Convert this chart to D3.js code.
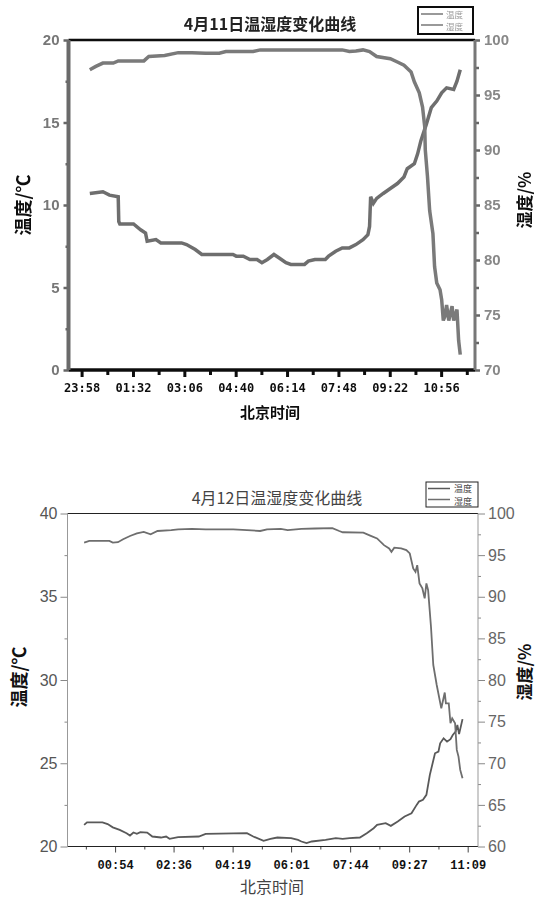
<!DOCTYPE html>
<html>
<head>
<meta charset="utf-8">
<script src="https://cdn.jsdelivr.net/npm/d3@7"></script>
<style>
  body { margin: 0; background: #fff; }
  svg { display: block; }
</style>
</head>
<body>
<svg id="chart" width="537" height="898"></svg>
<script>
// ---- data: upper chart (4月11日) ----
var topTempTimes = ["00:13","00:37","00:49","01:05","01:06","01:08","01:33","01:46","01:55","01:58","02:14","02:23","03:01","03:10","03:26","03:38","04:04","04:10","04:35","04:41","04:54","05:06","05:19","05:28","05:38","05:50","05:59","06:12","06:21","06:46","06:53","07:05","07:24","07:30","07:43","07:55","08:08","08:20","08:33","08:42","08:45","08:47","08:52","08:58","09:10","09:23","09:36","09:48","09:54","10:07","10:13","10:19","10:29","10:38","10:48","10:57","11:06","11:19","11:25","11:31"];
var topTemp = [10.7,10.8,10.6,10.5,9.0,8.85,8.85,8.5,8.3,7.8,7.9,7.7,7.7,7.6,7.3,7.0,7.0,7.0,7.0,6.9,6.9,6.7,6.7,6.5,6.7,7.0,6.8,6.5,6.4,6.4,6.6,6.7,6.7,6.9,7.2,7.4,7.4,7.6,7.9,8.2,8.7,10.5,10.1,10.4,10.7,11.0,11.3,11.7,12.2,12.5,13.1,13.9,14.9,15.9,16.3,16.8,17.1,17.0,17.5,18.2];
var topHumTimes = ["00:13","00:24","00:37","00:56","01:05","01:52","02:01","02:30","02:55","03:20","03:45","04:10","04:22","05:12","05:25","07:55","08:08","08:20","08:33","08:45","08:58","09:23","09:36","09:48","10:01","10:07","10:16","10:22","10:26","10:27","10:31","10:35","10:41","10:44","10:48","10:54","10:57","11:00","11:03","11:06","11:10","11:16","11:19","11:25","11:28","11:31"];
var topHum = [97.3,97.6,97.9,97.9,98.1,98.1,98.5,98.6,98.85,98.85,98.8,98.8,98.95,98.95,99.1,99.1,98.95,99.0,99.1,98.95,98.5,98.3,98.0,97.7,97.1,96.2,95.2,93.9,92.1,90.0,87.6,84.5,82.4,79.4,77.9,77.3,76.4,74.5,74.9,75.9,74.5,75.8,74.5,75.5,72.7,71.4];
var topTicks = ["23:58","01:32","03:06","04:40","06:14","07:48","09:22","10:56"];
var topMinor = ["00:45","02:19","03:53","05:27","07:01","08:35","10:09","11:43"];
var topDomain = ["23:34","11:58"];
var topTempTicks = [0,5,10,15,20], topTempMinor = [2.5,7.5,12.5,17.5];
var topHumTicks = [70,75,80,85,90,95,100], topHumMinor = [72.5,77.5,82.5,87.5,92.5,97.5];

// ---- data: lower chart (4月12日) ----
var botTempTimes = ["00:00","00:05","00:32","00:41","00:50","01:02","01:14","01:20","01:26","01:32","01:38","01:50","01:59","02:14","02:23","02:29","02:44","03:20","03:32","04:44","04:55","05:13","05:25","05:37","06:01","06:13","06:19","06:28","06:37","07:01","07:19","07:31","07:43","08:01","08:13","08:25","08:31","08:46","08:55","09:07","09:19","09:31","09:40","09:44","09:51","09:57","10:03","10:12","10:18","10:21","10:27","10:33","10:39","10:43","10:48","10:51","10:54","10:57","11:00"];
var botTemp = [21.3,21.45,21.45,21.35,21.15,21.0,20.8,20.66,20.84,20.76,20.86,20.84,20.6,20.54,20.6,20.46,20.56,20.6,20.76,20.8,20.6,20.34,20.46,20.54,20.5,20.4,20.3,20.2,20.3,20.4,20.5,20.46,20.5,20.54,20.8,21.1,21.3,21.4,21.24,21.5,21.8,22.0,22.5,22.7,22.8,23.1,24.3,25.6,25.7,26.2,26.5,26.3,26.45,26.7,26.9,27.3,26.75,27.2,27.65];
var botHumTimes = ["00:00","00:09","00:44","00:50","00:59","01:08","01:20","01:32","01:44","01:56","02:08","02:32","02:44","03:08","03:32","03:56","04:20","04:44","05:07","05:19","05:43","05:55","06:19","06:43","07:13","07:25","07:31","08:07","08:19","08:31","08:43","08:52","08:56","09:01","09:13","09:22","09:28","09:34","09:38","09:41","09:45","09:50","09:54","09:57","10:00","10:05","10:09","10:15","10:23","10:29","10:31","10:36","10:39","10:42","10:47","10:50","10:53","10:56","11:00"];
var botHum = [96.5,96.7,96.7,96.5,96.55,96.9,97.3,97.6,97.8,97.5,97.9,98.0,98.1,98.15,98.1,98.1,98.1,98.0,97.9,98.1,98.15,98.0,98.15,98.2,98.25,97.9,97.75,97.7,97.35,97.0,96.2,95.8,95.4,95.9,95.8,95.6,95.2,93.4,93.0,93.8,91.6,91.0,89.8,91.6,90.8,86.4,81.8,79.4,76.6,78.5,77.2,77.2,74.8,75.4,74.8,71.6,70.8,69.2,68.2];
var botTicks = ["00:54","02:36","04:19","06:01","07:44","09:27","11:09"];
var botMinor = ["00:03","01:45","03:27","05:10","06:52","08:35","10:18"];
var botDomain = ["23:31","11:27"];
var botTempTicks = [20,25,30,35,40], botTempMinor = [22.5,27.5,32.5,37.5];
var botHumTicks = [60,65,70,75,80,85,90,95,100], botHumMinor = [62.5,67.5,72.5,77.5,82.5,87.5,92.5,97.5];

var parse = d3.timeParse("%Y-%m-%d %H:%M");
// times after 18:00 belong to the evening before
function at(day, hm) {
    var h = +hm.slice(0, 2);
    var d = h >= 18 ? day - 1 : day;
    return parse("2019-04-" + String(d).padStart(2, "0") + " " + hm);
}

var svg = d3.select("#chart");
var fmt = d3.timeFormat("%H:%M");

// ================= upper chart =================
svg.append("defs").append("filter").attr("id", "soft")
    .append("feGaussianBlur").attr("stdDeviation", 0.45);

var g1 = svg.append("g").attr("filter", "url(#soft)");
var L1 = 68.5, R1 = 475, T1 = 40, B1 = 370;
var x1 = d3.scaleTime().domain(topDomain.map(function(s){ return at(11, s); })).range([L1, R1]);
var yT1 = d3.scaleLinear().domain([0, 20]).range([B1, T1]);
var yH1 = d3.scaleLinear().domain([70, 100]).range([B1, T1]);

// left axis
var la1 = g1.append("g").attr("transform", "translate(" + L1 + ",0)")
    .call(d3.axisLeft(yT1).tickValues(topTempTicks).tickSize(5).tickSizeOuter(0).tickPadding(4));
la1.append("g").call(d3.axisLeft(yT1).tickValues(topTempMinor).tickSize(3).tickFormat(""));
la1.selectAll("path.domain").remove();
la1.selectAll("line").attr("stroke", "#666").attr("stroke-width", 2.5);
la1.selectAll("text").attr("fill", "#777").style("font", "bold 15px 'Liberation Sans', Arial");

// right axis
var ra1 = g1.append("g").attr("transform", "translate(" + R1 + ",0)")
    .call(d3.axisRight(yH1).tickValues(topHumTicks).tickSize(5).tickSizeOuter(0).tickPadding(4));
ra1.append("g").call(d3.axisRight(yH1).tickValues(topHumMinor).tickSize(4).tickFormat(""));
ra1.selectAll("path.domain").remove();
ra1.selectAll("line").attr("stroke", "#666").attr("stroke-width", 2.5);
ra1.selectAll("text").attr("fill", "#888").style("font", "bold 15px 'Liberation Sans', Arial");

// bottom axis
var ba1 = g1.append("g").attr("transform", "translate(0," + B1 + ")")
    .call(d3.axisBottom(x1).tickValues(topTicks.map(function(s){ return at(11, s); }))
        .tickFormat(fmt).tickSize(7).tickSizeOuter(0).tickPadding(6));
ba1.append("g").call(d3.axisBottom(x1).tickValues(topMinor.map(function(s){ return at(11, s); }))
    .tickSize(5).tickFormat(""));
ba1.selectAll("path.domain").remove();
ba1.selectAll("line").attr("stroke", "#111").attr("stroke-width", 3);
ba1.selectAll("text").attr("fill", "#111").style("font", "bold 12px 'DejaVu Sans Mono', monospace");

// frame
g1.append("line").attr("x1", L1).attr("x2", R1).attr("y1", T1).attr("y2", T1).attr("stroke", "#111").attr("stroke-width", 2.5);
g1.append("line").attr("x1", L1).attr("x2", R1).attr("y1", B1).attr("y2", B1).attr("stroke", "#111").attr("stroke-width", 3.5);
g1.append("line").attr("x1", L1).attr("x2", L1).attr("y1", T1).attr("y2", B1).attr("stroke", "#6a6a6a").attr("stroke-width", 4);
g1.append("line").attr("x1", R1).attr("x2", R1).attr("y1", T1).attr("y2", B1).attr("stroke", "#777").attr("stroke-width", 3);

// curves
var lineT1 = d3.line().x(function(d, i){ return x1(at(11, topTempTimes[i])); }).y(function(d){ return yT1(d); });
var lineH1 = d3.line().x(function(d, i){ return x1(at(11, topHumTimes[i])); }).y(function(d){ return yH1(d); });
g1.append("path").datum(topTemp).attr("d", lineT1).attr("fill", "none").attr("stroke", "#6e6e6e").attr("stroke-width", 3.5);
g1.append("path").datum(topHum).attr("d", lineH1).attr("fill", "none").attr("stroke", "#7a7a7a").attr("stroke-width", 3.5);

// texts
g1.append("text").attr("x", 270).attr("y", 30).attr("text-anchor", "middle")
    .style("font", "bold 16px 'Noto Sans CJK SC'").attr("fill", "#222").text("4月11日温湿度变化曲线");
g1.append("text").attr("x", 270).attr("y", 418).attr("text-anchor", "middle")
    .style("font", "bold 15px 'Noto Sans CJK SC'").attr("fill", "#111").text("北京时间");
g1.append("text").attr("transform", "translate(30,205) rotate(-90)").attr("text-anchor", "middle")
    .style("font", "bold 18px 'Noto Sans CJK SC'").attr("fill", "#111").text("温度/℃");
g1.append("text").attr("transform", "translate(531,200) rotate(-90)").attr("text-anchor", "middle")
    .style("font", "bold 17px 'Noto Sans CJK SC'").attr("fill", "#111").text("湿度/%");

// legend
var lg1 = g1.append("g");
lg1.append("rect").attr("x", 418).attr("y", 7).attr("width", 55).attr("height", 27)
    .attr("fill", "#fff").attr("stroke", "#111").attr("stroke-width", 2);
lg1.append("line").attr("x1", 421).attr("x2", 443).attr("y1", 14).attr("y2", 14).attr("stroke", "#777").attr("stroke-width", 1.5);
lg1.append("line").attr("x1", 421).attr("x2", 443).attr("y1", 25).attr("y2", 25).attr("stroke", "#777").attr("stroke-width", 1.5);
lg1.append("text").attr("x", 446).attr("y", 18).style("font", "8.5px 'Noto Sans CJK SC'").attr("fill", "#999").text("温度");
lg1.append("text").attr("x", 446).attr("y", 30).style("font", "8.5px 'Noto Sans CJK SC'").attr("fill", "#999").text("湿度");

// ================= lower chart =================
var g2 = svg.append("g");
var L2 = 67.5, R2 = 478, T2 = 513.5, B2 = 846.5;
var x2 = d3.scaleTime().domain(botDomain.map(function(s){ return at(12, s); })).range([L2, R2]);
var yT2 = d3.scaleLinear().domain([20, 40]).range([B2, T2]);
var yH2 = d3.scaleLinear().domain([60, 100]).range([B2, T2]);

var la2 = g2.append("g").attr("transform", "translate(" + L2 + ",0)")
    .call(d3.axisLeft(yT2).tickValues(botTempTicks).tickSize(7).tickSizeOuter(0).tickPadding(3));
la2.append("g").call(d3.axisLeft(yT2).tickValues(botTempMinor).tickSize(3).tickFormat(""));
la2.selectAll("path.domain").remove();
la2.selectAll("line").attr("stroke", "#888");
la2.selectAll("text").attr("fill", "#555").style("font", "16px 'Liberation Sans', Arial");

var ra2 = g2.append("g").attr("transform", "translate(" + R2 + ",0)")
    .call(d3.axisRight(yH2).tickValues(botHumTicks).tickSize(7).tickSizeOuter(0).tickPadding(3));
ra2.append("g").call(d3.axisRight(yH2).tickValues(botHumMinor).tickSize(3).tickFormat(""));
ra2.selectAll("path.domain").remove();
ra2.selectAll("line").attr("stroke", "#888");
ra2.selectAll("text").attr("fill", "#666").style("font", "16px 'Liberation Sans', Arial");

var ba2 = g2.append("g").attr("transform", "translate(0," + B2 + ")")
    .call(d3.axisBottom(x2).tickValues(botTicks.map(function(s){ return at(12, s); }))
        .tickFormat(fmt).tickSize(6).tickSizeOuter(0).tickPadding(8));
ba2.append("g").call(d3.axisBottom(x2).tickValues(botMinor.map(function(s){ return at(12, s); }))
    .tickSize(3).tickFormat(""));
ba2.selectAll("path.domain").remove();
ba2.selectAll("line").attr("stroke", "#444");
ba2.selectAll("text").attr("fill", "#111").style("font", "bold 12px 'Liberation Mono', monospace");

g2.append("line").attr("x1", L2).attr("x2", R2).attr("y1", T2).attr("y2", T2).attr("stroke", "#222");
g2.append("line").attr("x1", L2).attr("x2", R2).attr("y1", B2).attr("y2", B2).attr("stroke", "#222");
g2.append("line").attr("x1", L2).attr("x2", L2).attr("y1", T2).attr("y2", B2).attr("stroke", "#999");
g2.append("line").attr("x1", R2).attr("x2", R2).attr("y1", T2).attr("y2", B2).attr("stroke", "#999");

var lineT2 = d3.line().x(function(d, i){ return x2(at(12, botTempTimes[i])); }).y(function(d){ return yT2(d); });
var lineH2 = d3.line().x(function(d, i){ return x2(at(12, botHumTimes[i])); }).y(function(d){ return yH2(d); });
g2.append("path").datum(botTemp).attr("d", lineT2).attr("fill", "none").attr("stroke", "#595959").attr("stroke-width", 1.8);
g2.append("path").datum(botHum).attr("d", lineH2).attr("fill", "none").attr("stroke", "#6e6e6e").attr("stroke-width", 1.8);

g2.append("text").attr("x", 277).attr("y", 504).attr("text-anchor", "middle")
    .style("font", "16px 'Noto Sans CJK SC'").attr("fill", "#444").text("4月12日温湿度变化曲线");
g2.append("text").attr("x", 272).attr("y", 893).attr("text-anchor", "middle")
    .style("font", "16px 'Noto Sans CJK SC'").attr("fill", "#444").text("北京时间");
g2.append("text").attr("transform", "translate(26,677) rotate(-90)").attr("text-anchor", "middle")
    .style("font", "bold 18px 'Noto Sans CJK SC'").attr("fill", "#111").text("温度/℃");
g2.append("text").attr("transform", "translate(531,672) rotate(-90)").attr("text-anchor", "middle")
    .style("font", "bold 17px 'Noto Sans CJK SC'").attr("fill", "#111").text("湿度/%");

var lg2 = g2.append("g");
lg2.append("rect").attr("x", 426).attr("y", 482).attr("width", 52).attr("height", 25)
    .attr("fill", "#fff").attr("stroke", "#222");
lg2.append("line").attr("x1", 428).attr("x2", 450).attr("y1", 488.5).attr("y2", 488.5).attr("stroke", "#595959").attr("stroke-width", 1.5);
lg2.append("line").attr("x1", 428).attr("x2", 450).attr("y1", 499.5).attr("y2", 499.5).attr("stroke", "#6e6e6e").attr("stroke-width", 1.5);
lg2.append("text").attr("x", 454).attr("y", 492).style("font", "9px 'Noto Sans CJK SC'").attr("fill", "#444").text("温度");
lg2.append("text").attr("x", 454).attr("y", 504.5).style("font", "9px 'Noto Sans CJK SC'").attr("fill", "#444").text("湿度");
</script>
</body>
</html>
